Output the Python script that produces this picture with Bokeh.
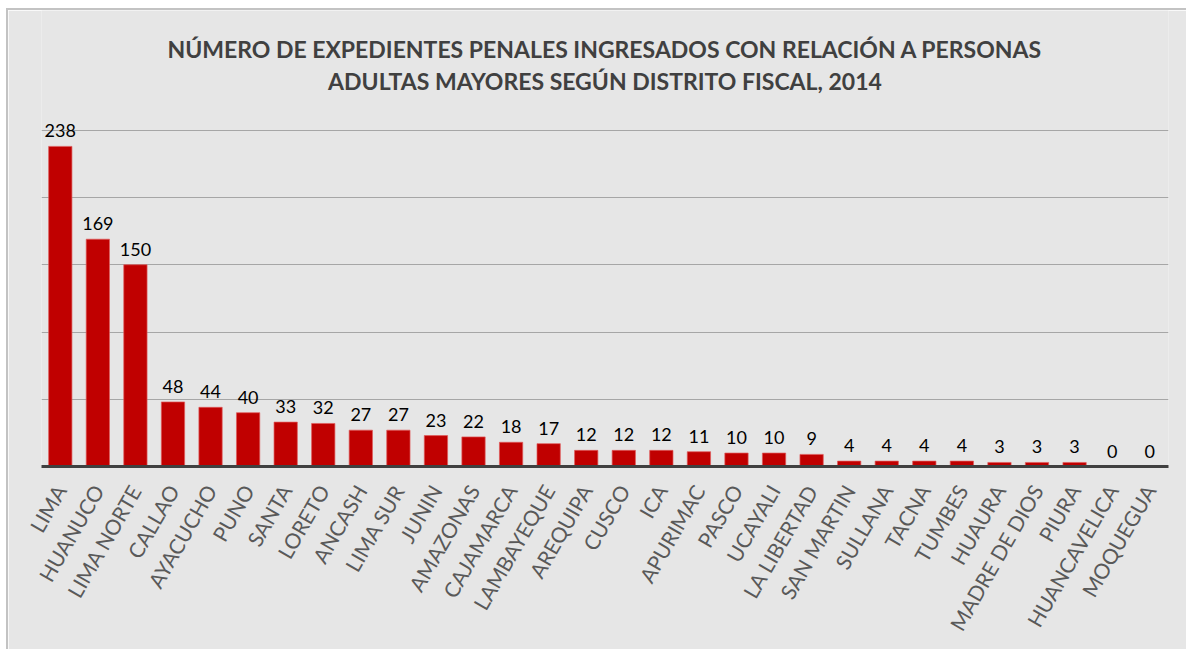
import math
from bokeh.plotting import figure
from bokeh.models import ColumnDataSource, LabelSet, Label, FixedTicker, Range1d, FactorRange
from bokeh.embed import file_html
from bokeh.resources import INLINE
from bokeh.core.properties import value

districts = ["LIMA", "HUANUCO", "LIMA NORTE", "CALLAO", "AYACUCHO", "PUNO", "SANTA", "LORETO",
             "ANCASH", "LIMA SUR", "JUNIN", "AMAZONAS", "CAJAMARCA", "LAMBAYEQUE", "AREQUIPA",
             "CUSCO", "ICA", "APURIMAC", "PASCO", "UCAYALI", "LA LIBERTAD", "SAN MARTIN",
             "SULLANA", "TACNA", "TUMBES", "HUAURA", "MADRE DE DIOS", "PIURA", "HUANCAVELICA",
             "MOQUEGUA"]
counts = [238, 169, 150, 48, 44, 40, 33, 32, 27, 27, 23, 22, 18, 17, 12, 12, 12, 11, 10, 10,
          9, 4, 4, 4, 4, 3, 3, 3, 0, 0]
grid_ticks = [50, 100, 150, 200, 250]
title_lines = ["NÚMERO DE EXPEDIENTES PENALES INGRESADOS CON RELACIÓN A PERSONAS",
               "ADULTAS MAYORES SEGÚN DISTRITO FISCAL, 2014"]

W, H = 1178, 639
B_TOP, B_BOT, B_LEFT, B_RIGHT = 0, 183, 33, 18
PX_PER_UNIT = 1.345
frame_h = H - B_TOP - B_BOT
Y_END = frame_h / PX_PER_UNIT
BG = "#e6e6e6"
FONT = "Lato"

src = ColumnDataSource(dict(d=districts, c=counts, t=[str(v) for v in counts]))

p = figure(x_range=FactorRange(*districts), y_range=Range1d(0, Y_END),
           width=W, height=H, output_backend="svg", toolbar_location=None,
           y_axis_location=None,
           min_border_left=B_LEFT, min_border_right=B_RIGHT,
           min_border_top=B_TOP, min_border_bottom=B_BOT)
p.background_fill_color = BG
p.border_fill_color = BG
p.outline_line_color = None
p.styles = {"position": "relative", "left": "8px", "top": "10px",
            "outline": "2px solid #c3c3c3"}

p.xgrid.grid_line_color = None
p.ygrid.ticker = FixedTicker(ticks=grid_ticks)
p.ygrid.grid_line_color = "#a6a6a6"
p.ygrid.grid_line_width = 1

p.vbar(x="d", top="c", width=0.62, source=src, fill_color="#c00000",
       line_color="#e05a5a", line_width=1, line_alpha=0.7)

p.add_layout(LabelSet(x="d", y="c", text="t", source=src, text_align="center",
                      text_baseline="bottom", y_offset=9, text_color="#000000",
                      text_font=value(FONT), text_font_size="18px"))

ax = p.xaxis[0]
ax.axis_line_width = 3
ax.axis_line_color = "#404040"
ax.major_tick_line_color = None
ax.minor_tick_line_color = None
ax.major_label_orientation = math.pi / 3
ax.major_label_standoff = 14
ax.major_label_text_font = FONT
ax.major_label_text_font_size = "21px"
ax.major_label_text_color = "#595959"

for line, yc in zip(title_lines, [38, 70]):
    ydata = Y_END - (yc - B_TOP) / PX_PER_UNIT
    p.add_layout(Label(x=len(districts) / 2, y=ydata, text=line, text_align="center",
                       text_baseline="middle", text_font=FONT, text_font_style="bold",
                       text_font_size="23px", text_color="#404040"))

open("out.html", "w").write(file_html(p, INLINE))
